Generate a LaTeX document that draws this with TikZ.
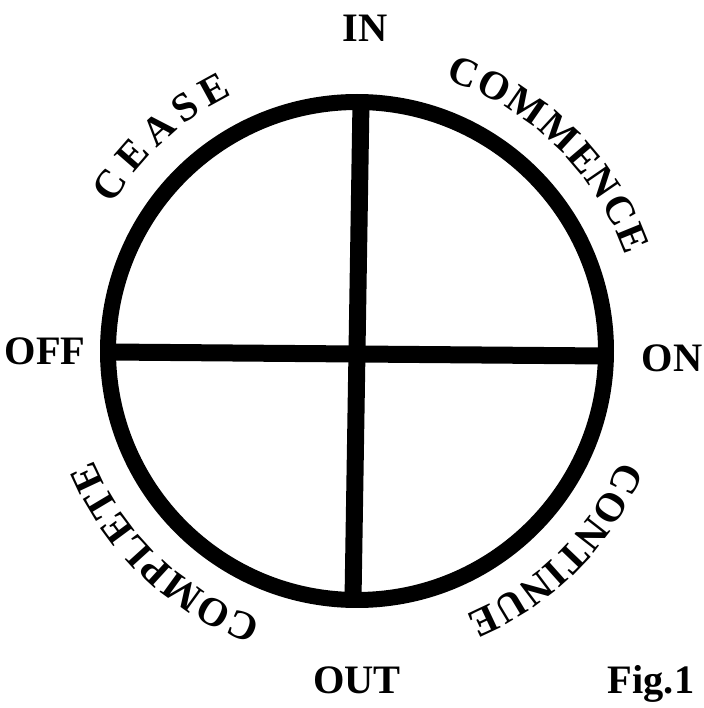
\documentclass[tikz,border=0pt]{standalone}
\usepackage{fontspec}
\setmainfont{Liberation Serif}
\usetikzlibrary{decorations.text}

\newcommand{\curvefont}{\fontsize{23}{23}\selectfont\bfseries}

\begin{document}
\begin{tikzpicture}[
    dirlabel/.style={font=\fontsize{23}{23}\selectfont\bfseries, anchor=base, inner sep=0pt},
    rim/.style={line width=0.32cm},
    crossbar/.style={line width=0.34cm},
    arcword/.style={decorate, decoration={text along path, text align=fit to path, text={|\curvefont|#1}}}
]
\useasboundingbox (0,0) rectangle (14.08,14.16);
\coordinate (O) at (7.14,7.14);

% ends of the cross on the rim
\coordinate (top) at (7.22,12.12);
\coordinate (bottom) at (7.06,2.16);
\coordinate (left) at (2.16,7.12);
\coordinate (right) at (12.12,7.04);

\draw[crossbar] (top) -- (bottom);
\draw[crossbar] (left) -- (right);
\draw[rim] (O) circle[radius=4.98];

% the four directions
\node[dirlabel] (in) at (7.30,13.32) {IN};
\node[dirlabel] (off) at (0.90,6.86) {OFF};
\node[dirlabel] (on) at (13.44,6.72) {ON};
\node[dirlabel] (out) at (7.14,0.30) {OUT};
\node[dirlabel] (fig) at (13.02,0.30) {Fig.1};

% words round the rim, clockwise
\path[arcword=CEASE] ([shift={(O)}]149:5.70) arc[start angle=149, end angle=116, radius=5.70];
\path[arcword=COMMENCE] ([shift={(O)}]72:5.70) arc[start angle=72, end angle=19.5, radius=5.70];
\path[arcword=CONTINUE] ([shift={(O)}]-22.5:5.70) arc[start angle=-22.5, end angle=-67.5, radius=5.70];
\path[arcword=COMPLETE] ([shift={(O)}]-109.5:5.70) arc[start angle=-109.5, end angle=-157.5, radius=5.70];
\end{tikzpicture}
\end{document}
